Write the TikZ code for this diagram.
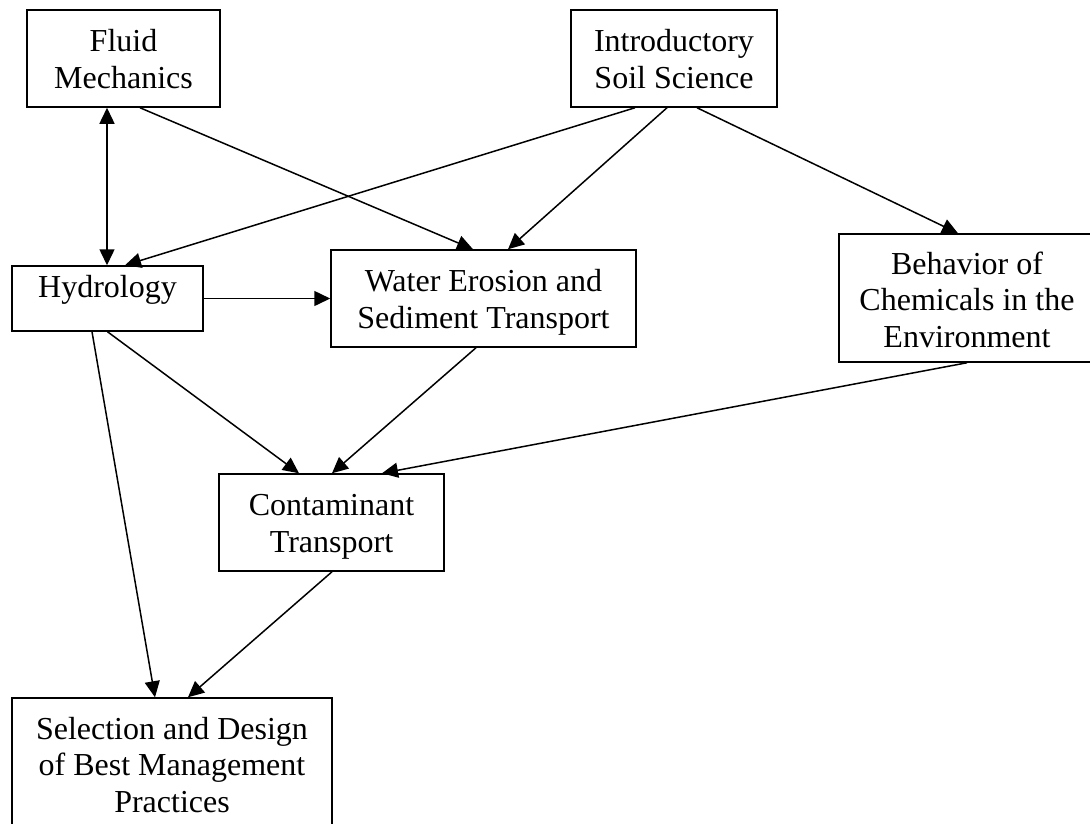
\documentclass[tikz,border=0pt]{standalone}
\usepackage{fontspec}
\setmainfont{Liberation Serif}
\usetikzlibrary{arrows.meta}
\newcommand{\boxlines}[1]{{\setlength{\tabcolsep}{0pt}\renewcommand{\arraystretch}{1}\begin{tabular}[b]{@{}c@{}}#1\end{tabular}}}
\tikzset{
  box/.style={draw, line width=1.5pt, rectangle, inner sep=0pt,
    font=\fontsize{32}{36.5}\selectfont, text depth=0pt},
  conn/.style={line width=1.5pt, ->},
  biconn/.style={line width=1.5pt, <->}
}
\begin{document}
\begin{tikzpicture}[x=1pt,y=-1pt, >={Triangle[length=16pt,width=15pt]}]
\clip (0,0) rectangle (1090,823);
\fill[white] (0,0) rectangle (1090,823);
\node[box, minimum width=193pt, minimum height=97pt, text height=59pt] (fluid) at (123.5,58.5) {\boxlines{Fluid\\Mechanics}};
\node[box, minimum width=206pt, minimum height=97pt, text height=59pt] (intro) at (674,58.5) {\boxlines{Introductory\\Soil Science}};
\node[box, minimum width=191pt, minimum height=65pt, text height=0pt, text depth=3pt] (hydro) at (107.5,298.5) {\boxlines{Hydrology}};
\node[box, minimum width=305pt, minimum height=97pt, text height=59pt] (water) at (483.5,298.5) {\boxlines{Water Erosion and\\Sediment Transport}};
\node[box, minimum width=256pt, minimum height=128pt, text height=98pt] (behav) at (967,298) {\boxlines{Behavior of\\Chemicals in the\\Environment}};
\node[box, minimum width=225pt, minimum height=97pt, text height=59pt] (contam) at (331.5,522.5) {\boxlines{Contaminant\\Transport}};
\node[box, minimum width=320pt, minimum height=135pt, text height=93pt] (select) at (172,765.5) {\boxlines{Selection and Design\\of Best Management\\Practices}};

\draw[biconn] ([xshift=-16.5pt]fluid.south) -- ([xshift=-0.5pt]hydro.north);
\draw[conn] ([xshift=16.5pt]fluid.south) -- ([xshift=-10.5pt]water.north);
\draw[conn] ([xshift=-39pt]intro.south) -- ([xshift=17.5pt]hydro.north);
\draw[conn] ([xshift=-7pt]intro.south) -- ([xshift=24.5pt]water.north);
\draw[conn] ([xshift=23pt]intro.south) -- ([xshift=-9pt]behav.north);
\draw[conn] (hydro.east) -- (water.west);
\draw[conn] ([xshift=0pt]hydro.south) -- ([xshift=-32.5pt]contam.north);
\draw[conn] ([xshift=-15.5pt]hydro.south) -- ([xshift=-17pt]select.north);
\draw[conn] ([xshift=-7.5pt]water.south) -- ([xshift=0.5pt]contam.north);
\draw[conn] (behav.south) -- ([xshift=50.5pt]contam.north);
\draw[conn] ([xshift=0.5pt]contam.south) -- ([xshift=16pt]select.north);
\end{tikzpicture}
\end{document}
